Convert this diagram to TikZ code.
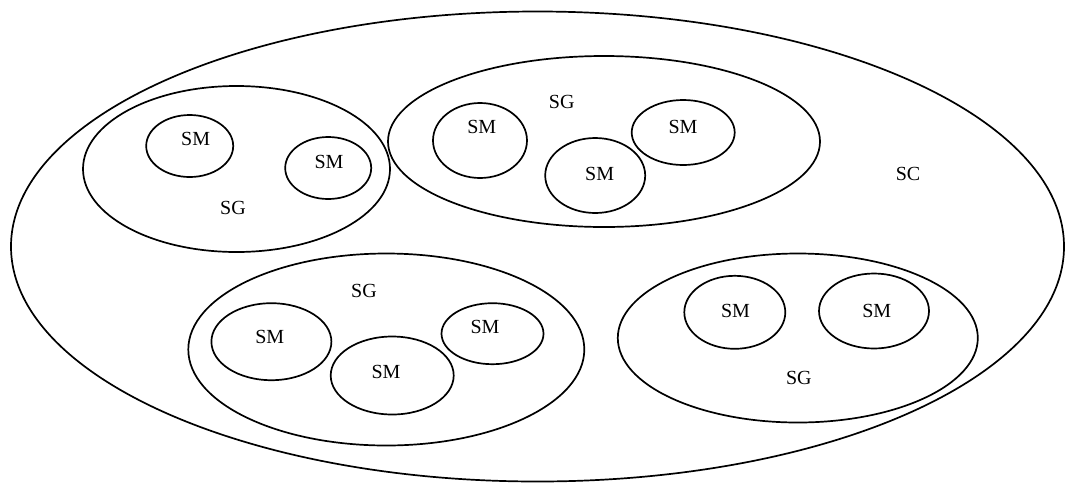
\documentclass[tikz,border=0pt]{standalone}
\usepackage{fontspec}
\setmainfont{Liberation Serif}
\usetikzlibrary{shapes.geometric}
\begin{document}
\begin{tikzpicture}[x=1pt,y=-1pt,
  ring/.style 2 args={draw, ellipse, line width=1.7pt, inner sep=0pt,
    minimum width=#1pt, minimum height=#2pt},
  lbl/.style={font=\fontsize{20}{24}\selectfont, inner sep=0pt}]
\useasboundingbox (0,0) rectangle (1065,483);
% system container
\node[ring={1053}{470}] (sc) at (537.5,246.5) {};
\node[lbl] (sclbl) at (908,174) {SC};
% group 1 (top left)
\node[ring={307}{166}] (g1) at (236.5,169) {};
\node[ring={87}{62}] (g1a) at (189.7,146) {};
\node[ring={86}{62}] (g1b) at (328.2,168) {};
\node[lbl] (g1lbl) at (233,208) {SG};
\node[lbl] (g1alb) at (195.7,139) {SM};
\node[lbl] (g1blb) at (329,162) {SM};
% group 2 (top middle)
\node[ring={432}{171}] (g2) at (604,141.5) {};
\node[ring={94}{75}] (g2a) at (480,140.5) {};
\node[ring={103}{65}] (g2b) at (683.2,132.5) {};
\node[ring={100}{75}] (g2c) at (595.2,175.5) {};
\node[lbl] (g2lbl) at (561.7,102) {SG};
\node[lbl] (g2alb) at (481.7,127) {SM};
\node[lbl] (g2blb) at (683,127) {SM};
\node[lbl] (g2clb) at (599.6,174) {SM};
% group 3 (bottom left)
\node[ring={396}{192}] (g3) at (386.3,349.5) {};
\node[ring={120}{77}] (g3a) at (271.4,341.7) {};
\node[ring={123}{78}] (g3b) at (392.2,375.5) {};
\node[ring={102}{61}] (g3c) at (492.5,333.7) {};
\node[lbl] (g3lbl) at (364,290.7) {SG};
\node[lbl] (g3alb) at (269.7,337.3) {SM};
\node[lbl] (g3blb) at (386,372.3) {SM};
\node[lbl] (g3clb) at (485,326.7) {SM};
% group 4 (bottom right)
\node[ring={360}{169}] (g4) at (797.8,338) {};
\node[ring={101}{73}] (g4a) at (734.8,312.3) {};
\node[ring={110}{75}] (g4b) at (874,311) {};
\node[lbl] (g4lbl) at (798.8,378.3) {SG};
\node[lbl] (g4alb) at (735.5,310.7) {SM};
\node[lbl] (g4blb) at (876.8,310.7) {SM};
\end{tikzpicture}
\end{document}
